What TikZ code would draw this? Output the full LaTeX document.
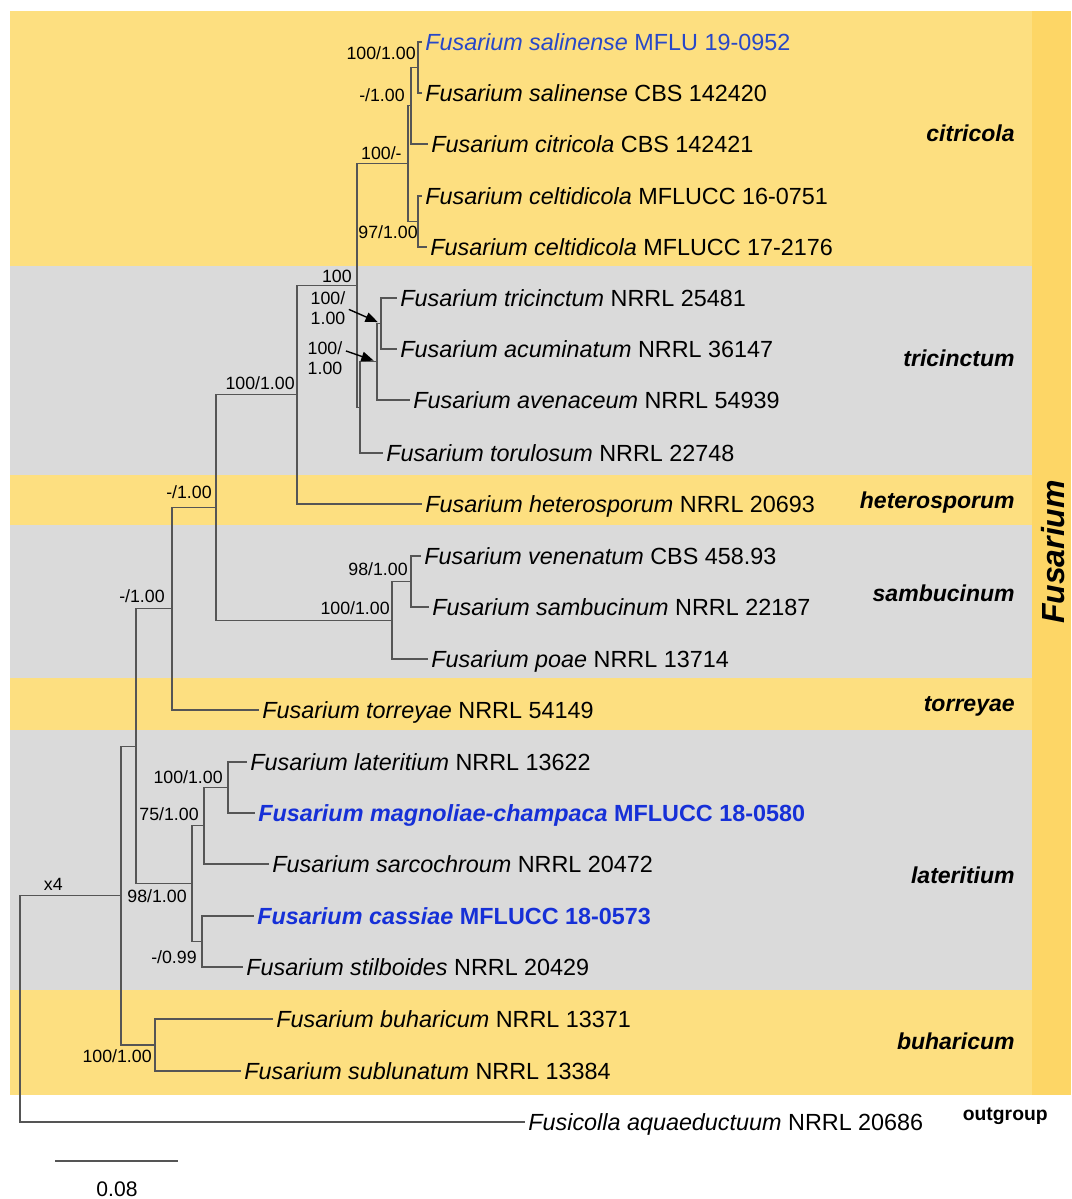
\documentclass[tikz,border=0pt]{standalone}
\usepackage{fontspec}
\setmainfont{Liberation Sans}
\usepackage{tikz}
\usetikzlibrary{positioning}
\usetikzlibrary{arrows.meta}
\usepackage{xcolor}

\definecolor{bandyellow}{RGB}{253,223,128}
\definecolor{bandgray}{RGB}{218,218,218}
\definecolor{baryellow}{RGB}{253,214,102}
\definecolor{treegray}{RGB}{85,85,85}
\definecolor{newblue}{RGB}{40,72,200}
\definecolor{boldblue}{RGB}{22,48,215}

\tikzset{
  branch/.style={treegray, line width=0.75pt},
  taxon/.style={anchor=west, inner sep=2pt, text height=9.5pt, text depth=0pt, font=\fontsize{13.3}{15}\selectfont},
  newtaxon/.style={taxon, text=newblue},
  boldtaxon/.style={taxon, text=boldblue, font=\fontsize{13.3}{15}\selectfont\bfseries},
  support/.style={anchor=east, inner sep=0pt, text height=7pt, text depth=0pt, font=\fontsize{10.1}{11}\selectfont},
  supporttwo/.style={inner sep=0pt, align=left, font=\fontsize{10.1}{11.3}\selectfont},
  clade/.style={anchor=east, inner sep=0pt, text height=9.5pt, text depth=0pt, font=\fontsize{13.1}{15}\selectfont\bfseries\itshape},
  pointer/.style={-{Triangle[length=7pt,width=5.5pt]}, black, line width=0.8pt},
}

\begin{document}
\begin{tikzpicture}[x=0.02cm, y=-0.02cm]

\useasboundingbox (0,0) rectangle (1071,1199);

% coloured bands
\fill[bandyellow] (10,11) rectangle (1032,266);
\fill[bandgray] (10,266) rectangle (1032,475);
\fill[bandyellow] (10,475) rectangle (1032,525);
\fill[bandgray] (10,525) rectangle (1032,678);
\fill[bandyellow] (10,678) rectangle (1032,730);
\fill[bandgray] (10,730) rectangle (1032,990);
\fill[bandyellow] (10,990) rectangle (1032,1095);
\fill[baryellow] (1032,11) rectangle (1071,1095);

% taxa
\node[newtaxon] (salMFLU) at (421.5,42) {\textit{Fusarium salinense} MFLU 19-0952};
\node[taxon] (salCBS) at (421.5,93) {\textit{Fusarium salinense} CBS 142420};
\node[taxon] (citri) at (427.5,144) {\textit{Fusarium citricola} CBS 142421};
\node[taxon] (celt16) at (421.5,196) {\textit{Fusarium celtidicola} MFLUCC 16-0751};
\node[taxon] (celt17) at (426.5,247) {\textit{Fusarium celtidicola} MFLUCC 17-2176};
\node[taxon] (trici) at (396.5,298) {\textit{Fusarium tricinctum} NRRL 25481};
\node[taxon] (acumi) at (396.5,349) {\textit{Fusarium acuminatum} NRRL 36147};
\node[taxon] (avena) at (409.5,400) {\textit{Fusarium avenaceum} NRRL 54939};
\node[taxon] (torul) at (382.5,453) {\textit{Fusarium torulosum} NRRL 22748};
\node[taxon] (heter) at (421.5,504) {\textit{Fusarium heterosporum} NRRL 20693};
\node[taxon] (venen) at (420.5,556) {\textit{Fusarium venenatum} CBS 458.93};
\node[taxon] (sambu) at (428.5,607) {\textit{Fusarium sambucinum} NRRL 22187};
\node[taxon] (poae) at (427.5,659) {\textit{Fusarium poae} NRRL 13714};
\node[taxon] (torre) at (258.5,710) {\textit{Fusarium torreyae} NRRL 54149};
\node[taxon] (later) at (246.5,762) {\textit{Fusarium lateritium} NRRL 13622};
\node[boldtaxon] (magno) at (254.5,813) {\textit{Fusarium magnoliae-champaca} MFLUCC 18-0580};
\node[taxon] (sarco) at (268.5,864) {\textit{Fusarium sarcochroum} NRRL 20472};
\node[boldtaxon] (cassi) at (253.5,916) {\textit{Fusarium cassiae} MFLUCC 18-0573};
\node[taxon] (stilb) at (242.5,967) {\textit{Fusarium stilboides} NRRL 20429};
\node[taxon] (buhar) at (272.5,1019) {\textit{Fusarium buharicum} NRRL 13371};
\node[taxon] (sublu) at (240.5,1071) {\textit{Fusarium sublunatum} NRRL 13384};
\node[taxon] (fusic) at (524.5,1122) {\textit{Fusicolla aquaeductuum} NRRL 20686};

% internal nodes
\coordinate (n-sal) at (418,67.5);
\coordinate (n-salcit) at (411,105.75);
\coordinate (n-celt) at (418,221.5);
\coordinate (n-citr) at (408,163.6);
\coordinate (n-triacu) at (381,323.5);
\coordinate (n-triave) at (377,361.75);
\coordinate (n-tric) at (360,407.4);
\coordinate (n-ctr) at (357,285.5);
\coordinate (n-het) at (297,394.75);
\coordinate (n-vensam) at (411,581.5);
\coordinate (n-samb) at (392,620.25);
\coordinate (n-up) at (216,507.5);
\coordinate (n-torr) at (172,608.75);
\coordinate (n-latmag) at (228,787.5);
\coordinate (n-latsar) at (204,825.75);
\coordinate (n-cassti) at (202,941.5);
\coordinate (n-late) at (192,883.6);
\coordinate (n-core) at (136,746.2);
\coordinate (n-buha) at (155,1045);
\coordinate (n-fus) at (121,895.6);
\coordinate (n-root) at (20,1008.8);

% branches
\draw[branch] (n-sal) |- (salMFLU.west);
\draw[branch] (n-sal) |- (salCBS.west);
\draw[branch] (n-salcit) |- (n-sal);
\draw[branch] (n-salcit) |- (citri.west);
\draw[branch] (n-celt) |- (celt16.west);
\draw[branch] (n-celt) |- (celt17.west);
\draw[branch] (n-citr) |- (n-salcit);
\draw[branch] (n-citr) |- (n-celt);

\draw[branch] (n-triacu) |- (trici.west);
\draw[branch] (n-triacu) |- (acumi.west);
\draw[branch] (n-triave) |- (n-triacu);
\draw[branch] (n-triave) |- (avena.west);
\draw[branch] (n-tric) |- (n-triave);
\draw[branch] (n-tric) |- (torul.west);
\draw[branch] (n-ctr) |- (n-citr);
\draw[branch] (n-ctr) |- (n-tric);
\draw[branch] (n-het) |- (n-ctr);
\draw[branch] (n-het) |- (heter.west);

\draw[branch] (n-vensam) |- (venen.west);
\draw[branch] (n-vensam) |- (sambu.west);
\draw[branch] (n-samb) |- (n-vensam);
\draw[branch] (n-samb) |- (poae.west);
\draw[branch] (n-up) |- (n-het);
\draw[branch] (n-up) |- (n-samb);
\draw[branch] (n-torr) |- (n-up);
\draw[branch] (n-torr) |- (torre.west);

\draw[branch] (n-latmag) |- (later.west);
\draw[branch] (n-latmag) |- (magno.west);
\draw[branch] (n-latsar) |- (n-latmag);
\draw[branch] (n-latsar) |- (sarco.west);
\draw[branch] (n-cassti) |- (cassi.west);
\draw[branch] (n-cassti) |- (stilb.west);
\draw[branch] (n-late) |- (n-latsar);
\draw[branch] (n-late) |- (n-cassti);
\draw[branch] (n-core) |- (n-torr);
\draw[branch] (n-core) |- (n-late);

\draw[branch] (n-buha) |- (buhar.west);
\draw[branch] (n-buha) |- (sublu.west);
\draw[branch] (n-fus) |- (n-core);
\draw[branch] (n-fus) |- (n-buha);
\draw[branch] (n-root) |- (n-fus);
\draw[branch] (n-root) |- (fusic.west);

% support values
\node[support] (bs-sal) at (416,53) {100/1.00};
\node[support] (bs-salcit) at (405,95) {-/1.00};
\node[support] (bs-celt) at (418,232) {97/1.00};
\node[support] (bs-citr) at (402,153) {100/-};
\node[support] (bs-ctr) at (352,276) {100};
\node[supporttwo] (bs-triacu) at (328,308) {100/\\1.00};
\node[supporttwo] (bs-triave) at (325,358) {100/\\1.00};
\node[support] (bs-het) at (295,383) {100/1.00};
\node[support] (bs-vensam) at (408,569) {98/1.00};
\node[support] (bs-samb) at (390,608) {100/1.00};
\node[support] (bs-up) at (212,492) {-/1.00};
\node[support] (bs-torr) at (165,596) {-/1.00};
\node[support] (bs-latmag) at (223,777) {100/1.00};
\node[support] (bs-latsar) at (199,814) {75/1.00};
\node[support] (bs-late) at (187,896) {98/1.00};
\node[support] (bs-cassti) at (197,957) {-/0.99};
\node[support] (bs-buha) at (152,1056) {100/1.00};
\node[support] (bs-fus) at (63,884) {x4};

\draw[pointer, shorten <=2pt, shorten >=2pt] (bs-triacu.east) -- (n-triacu);
\draw[pointer, shorten <=2pt, shorten >=2pt] (bs-triave.25) -- (n-triave);

% clade names
\node[clade] (c-citr) at (1015,133) {citricola};
\node[clade] (c-tric) at (1015,358) {tricinctum};
\node[clade] (c-hete) at (1015,500) {heterosporum};
\node[clade] (c-samb) at (1015,593) {sambucinum};
\node[clade] (c-torr) at (1015,703) {torreyae};
\node[clade] (c-late) at (1015,875) {lateritium};
\node[clade] (c-buha) at (1015,1041) {buharicum};
\node[anchor=east, inner sep=0pt, font=\fontsize{11}{13}\selectfont\bfseries] (c-out) at (1048,1116) {outgroup};
\node[rotate=90, inner sep=0pt, font=\fontsize{18.2}{20}\selectfont\bfseries\itshape] (genus) at (1053,552) {Fusarium};

% scale bar
\coordinate (bar-l) at (55,1161);
\coordinate (bar-r) at (178,1161);
\draw[treegray, line width=1.1pt] (bar-l) -- (bar-r);
\node[font=\fontsize{12}{14}\selectfont] (bar-txt) at (117,1189) {0.08};

\end{tikzpicture}
\end{document}
